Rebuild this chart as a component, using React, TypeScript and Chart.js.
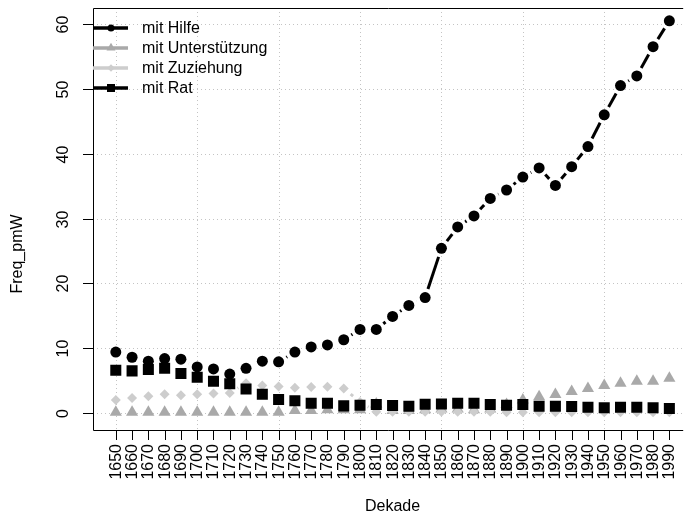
import { useEffect, useRef } from "react";
import { Chart, registerables } from "chart.js";

Chart.register(...registerables);

const decades = [1650, 1660, 1670, 1680, 1690, 1700, 1710, 1720, 1730, 1740, 1750, 1760, 1770, 1780, 1790, 1800, 1810, 1820, 1830, 1840, 1850, 1860, 1870, 1880, 1890, 1900, 1910, 1920, 1930, 1940, 1950, 1960, 1970, 1980, 1990];
const mitHilfe = [9.4, 8.6, 8.0, 8.4, 8.3, 7.1, 6.8, 6.0, 6.9, 8.0, 7.9, 9.4, 10.2, 10.5, 11.3, 12.9, 12.9, 14.9, 16.6, 17.8, 25.4, 28.7, 30.4, 33.1, 34.4, 36.4, 37.8, 35.1, 38.0, 41.1, 46.0, 50.5, 52.0, 56.5, 60.5];
const mitUnterstuetzung = [0.1, 0.1, 0.1, 0.1, 0.1, 0.1, 0.1, 0.1, 0.1, 0.1, 0.1, 0.4, 0.4, 0.5, 0.5, 0.5, 1.4, 0.4, 0.4, 0.5, 0.6, 0.6, 0.5, 0.6, 1.3, 2.0, 2.5, 2.85, 3.3, 3.8, 4.25, 4.6, 4.9, 4.9, 5.35];
const mitZuziehung = [2.0, 2.3, 2.6, 2.9, 2.75, 2.9, 3.0, 3.1, 4.6, 4.25, 4.1, 3.9, 4.0, 4.05, 3.8, 1.7, 0.2, 0.2, 0.2, 0.2, 0.2, 0.2, 0.2, 0.2, 0.1, 0.1, 0.1, 0.1, 0.1, 0.1, 0.1, 0.1, 0.1, 0.1, 0.1];
const mitRat = [6.6, 6.5, 6.7, 6.9, 6.1, 5.5, 4.9, 4.5, 3.7, 2.9, 2.1, 1.9, 1.5, 1.5, 1.1, 1.2, 1.3, 1.15, 1.05, 1.35, 1.4, 1.5, 1.5, 1.3, 1.2, 1.3, 1.05, 1.05, 1.0, 0.9, 0.8, 0.9, 0.9, 0.8, 0.7];

const seriesNames = ["mit Hilfe", "mit Unterstützung", "mit Zuziehung", "mit Rat"];
const seriesColors = ["#000000", "#a9a9a9", "#cdcdcd", "#000000"];
const yTicks = [0, 10, 20, 30, 40, 50, 60];
const gridX = [1650, 1700, 1750, 1800, 1850, 1900, 1950];
const xTitle = "Dekade";
const yTitle = "Freq_pmW";

const FONT = '16px "Liberation Sans", Arial, Helvetica, sans-serif';
const TICK_FONT = '16px "Liberation Sans", Arial, Helvetica, sans-serif';

function drawMarker(ctx: CanvasRenderingContext2D, kind: number, x: number, y: number, s: number) {
  ctx.beginPath();
  if (kind === 0) {
    ctx.arc(x, y, s, 0, Math.PI * 2);
  } else if (kind === 1) {
    const r = s * 1.3;
    ctx.moveTo(x, y - r);
    ctx.lineTo(x + r * 0.866, y + r * 0.5);
    ctx.lineTo(x - r * 0.866, y + r * 0.5);
    ctx.closePath();
  } else if (kind === 2) {
    const r = s * 0.95;
    ctx.moveTo(x, y - r);
    ctx.lineTo(x + r, y);
    ctx.lineTo(x, y + r);
    ctx.lineTo(x - r, y);
    ctx.closePath();
  } else {
    ctx.rect(x - s, y - s, 2 * s, 2 * s);
  }
  ctx.fill();
}

const rPlot = {
  id: "rPlot",
  beforeDatasetsDraw(chart: any) {
    const { ctx, chartArea: a, scales } = chart;
    const xs = scales.x;
    const ys = scales.y;
    ctx.save();
    // grid
    ctx.strokeStyle = "#c4c4c4";
    ctx.lineWidth = 1;
    ctx.setLineDash([1, 3]);
    for (const v of yTicks) {
      const y = Math.round(ys.getPixelForValue(v)) + 0.5;
      ctx.beginPath();
      ctx.moveTo(a.left, y);
      ctx.lineTo(a.right, y);
      ctx.stroke();
    }
    for (const v of gridX) {
      const x = Math.round(xs.getPixelForValue(v)) + 0.5;
      ctx.beginPath();
      ctx.moveTo(x, a.top);
      ctx.lineTo(x, a.bottom);
      ctx.stroke();
    }
    ctx.setLineDash([]);
    // gapped lines (type = "b")
    ctx.beginPath();
    ctx.rect(a.left, a.top, a.right - a.left, a.bottom - a.top);
    ctx.clip();
    const gap = 9;
    chart.data.datasets.forEach((ds: any, di: number) => {
      ctx.strokeStyle = seriesColors[di];
      ctx.lineWidth = 3;
      ctx.lineCap = "butt";
      const pts = ds.data.map((p: any) => [xs.getPixelForValue(p.x), ys.getPixelForValue(p.y)]);
      for (let i = 0; i < pts.length - 1; i++) {
        const [x1, y1] = pts[i];
        const [x2, y2] = pts[i + 1];
        const dx = x2 - x1;
        const dy = y2 - y1;
        const d = Math.hypot(dx, dy);
        if (d <= 2 * gap) continue;
        const ux = dx / d;
        const uy = dy / d;
        ctx.beginPath();
        ctx.moveTo(x1 + ux * gap, y1 + uy * gap);
        ctx.lineTo(x2 - ux * gap, y2 - uy * gap);
        ctx.stroke();
      }
    });
    ctx.restore();
  },
  afterDatasetsDraw(chart: any) {
    const { ctx, chartArea: a, scales } = chart;
    const xs = scales.x;
    const ys = scales.y;
    ctx.save();
    ctx.strokeStyle = "#000";
    ctx.fillStyle = "#000";
    ctx.lineWidth = 1;
    // box (right side is outside the canvas)
    ctx.beginPath();
    ctx.moveTo(a.right, a.top + 0.5);
    ctx.lineTo(a.left + 0.5, a.top + 0.5);
    ctx.lineTo(a.left + 0.5, a.bottom + 0.5);
    ctx.lineTo(a.right, a.bottom + 0.5);
    ctx.stroke();
    // y ticks and labels
    ctx.font = TICK_FONT;
    for (const v of yTicks) {
      const y = Math.round(ys.getPixelForValue(v)) + 0.5;
      ctx.beginPath();
      ctx.moveTo(a.left - 10, y);
      ctx.lineTo(a.left, y);
      ctx.stroke();
      ctx.save();
      ctx.translate(a.left - 25, y);
      ctx.rotate(-Math.PI / 2);
      ctx.textAlign = "center";
      ctx.textBaseline = "alphabetic";
      ctx.fillText(String(v), 0, 0);
      ctx.restore();
    }
    // x ticks and labels
    for (const d of decades) {
      const x = Math.round(xs.getPixelForValue(d)) + 0.5;
      ctx.beginPath();
      ctx.moveTo(x, a.bottom);
      ctx.lineTo(x, a.bottom + 10);
      ctx.stroke();
      ctx.save();
      ctx.translate(x, a.bottom + 14);
      ctx.rotate(-Math.PI / 2);
      ctx.textAlign = "right";
      ctx.textBaseline = "middle";
      ctx.fillText(String(d), 0, 0);
      ctx.restore();
    }
    // axis titles
    ctx.font = FONT;
    ctx.textAlign = "center";
    ctx.textBaseline = "alphabetic";
    ctx.fillText(xTitle, xs.getPixelForValue((decades[0] + decades[decades.length - 1]) / 2), 511);
    ctx.save();
    ctx.translate(21.5, 254);
    ctx.rotate(-Math.PI / 2);
    ctx.fillText(yTitle, 0, 0);
    ctx.restore();
    // legend
    seriesNames.forEach((name, i) => {
      const y = a.top + 20 + 20 * i;
      ctx.strokeStyle = seriesColors[i];
      ctx.fillStyle = seriesColors[i];
      ctx.lineWidth = 3.5;
      ctx.beginPath();
      ctx.moveTo(a.left, y);
      ctx.lineTo(a.left + 35, y);
      ctx.stroke();
      drawMarker(ctx, i, a.left + 18, y, i === 0 ? 3.5 : 4);
      ctx.fillStyle = "#000";
      ctx.textAlign = "left";
      ctx.textBaseline = "middle";
      ctx.fillText(name, a.left + 49, y + 1);
    });
    ctx.restore();
  },
};

export default function App() {
  const ref = useRef<HTMLCanvasElement | null>(null);
  useEffect(() => {
    if (!ref.current) return;
    const mk = (arr: number[]) => decades.map((d, i) => ({ x: d, y: arr[i] }));
    const chart = new Chart(ref.current, {
      type: "line",
      data: {
        datasets: [
          { label: seriesNames[0], data: mk(mitHilfe), showLine: false, pointStyle: "circle", pointRadius: 5.5, pointBackgroundColor: seriesColors[0], pointBorderWidth: 0, order: 4 },
          { label: seriesNames[1], data: mk(mitUnterstuetzung), showLine: false, pointStyle: "triangle", pointRadius: 7, pointBackgroundColor: seriesColors[1], pointBorderWidth: 0, order: 3 },
          { label: seriesNames[2], data: mk(mitZuziehung), showLine: false, pointStyle: "rectRot", pointRadius: 5, pointBackgroundColor: seriesColors[2], pointBorderWidth: 0, order: 2 },
          { label: seriesNames[3], data: mk(mitRat), showLine: false, pointStyle: "rect", pointRadius: 7.8, pointBackgroundColor: seriesColors[3], pointBorderWidth: 0, order: 1 },
        ],
      },
      options: {
        responsive: false,
        animation: false,
        events: [],
        layout: { padding: { left: 93, top: 8, right: 0, bottom: 88 } },
        scales: {
          x: { type: "linear", min: 1636, max: 1998.5, display: false },
          y: { type: "linear", min: -2.62, max: 62.47, display: false },
        },
        plugins: { legend: { display: false }, tooltip: { enabled: false } },
      },
      plugins: [rPlot],
    } as any);
    return () => chart.destroy();
  }, []);
  return (
    <div style={{ position: "absolute", left: 0, top: 0, width: 691, height: 518, background: "#fff" }}>
      <canvas ref={ref} width={691} height={518} style={{ display: "block" }} />
    </div>
  );
}
